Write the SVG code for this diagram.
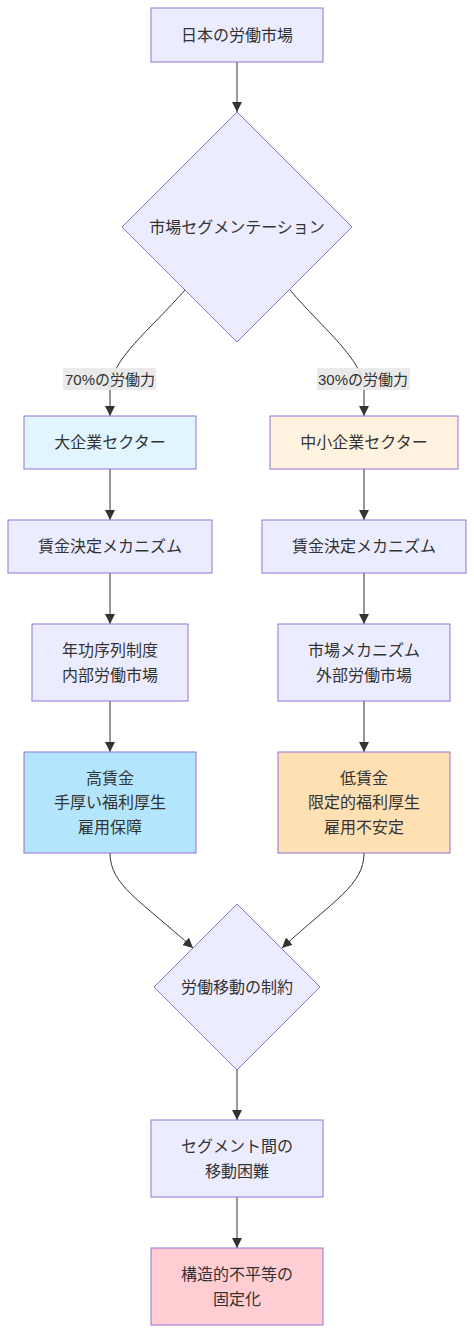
<svg xmlns="http://www.w3.org/2000/svg" width="474" height="1334" viewBox="0 0 474 1334">
<defs>
<marker id="arr" viewBox="0 0 10 10" refX="10" refY="5" markerWidth="10" markerHeight="10" markerUnits="userSpaceOnUse" orient="auto">
<path d="M0,0 L10,5 L0,10 z" fill="#333"/>
</marker>
<style>
.n{fill:#ECECFF;stroke:#9370DB;stroke-width:1}
.t{font-family:"Liberation Sans","Noto Sans CJK JP",sans-serif;font-size:16px;fill:#333;text-anchor:middle;dominant-baseline:central}
.lt{font-family:"Liberation Sans","Noto Sans CJK JP",sans-serif;font-size:15px;fill:#333;text-anchor:middle;dominant-baseline:central}
.e{fill:none;stroke:#333;stroke-width:1;marker-end:url(#arr)}
.lb{fill:#e8e8e8;opacity:0.9}
</style>
</defs>
<rect width="474" height="1334" fill="#fff"/>
<g id="edges">
<path class="e" d="M237,62 L237,112"/>
<path class="e" d="M185,290 C150,330 110,360 110,390 L110,416"/>
<path class="e" d="M290,290 C324,330 364,360 364,390 L364,416"/>
<path class="e" d="M110,469 L110,520"/>
<path class="e" d="M110,573 L110,624"/>
<path class="e" d="M110,701 L110,752"/>
<path class="e" d="M364,469 L364,520"/>
<path class="e" d="M364,573 L364,624"/>
<path class="e" d="M364,701 L364,752"/>
<path class="e" d="M110,853 C110,885 140,900 193,948"/>
<path class="e" d="M364,853 C364,885 334,900 282,948"/>
<path class="e" d="M237,1070 L237,1120"/>
<path class="e" d="M237,1197 L237,1248"/>
<g id="label1"><rect class="lb" x="63" y="368" width="93" height="22"/><text class="lt" x="110" y="379">70%の労働力</text></g>
<g id="label2"><rect class="lb" x="317" y="368" width="93" height="22"/><text class="lt" x="363" y="379">30%の労働力</text></g>
</g>
<g id="A"><rect class="n" x="151" y="8" width="172" height="54"/><text class="t" x="237" y="35">日本の労働市場</text></g>
<g id="B"><polygon class="n" points="237,112 352,227 237,342 122,227"/><text class="t" x="237" y="227">市場セグメンテーション</text></g>
<g id="C"><rect class="n" style="fill:#e1f5fe" x="24" y="416" width="172" height="53"/><text class="t" x="110" y="442">大企業セクター</text></g>
<g id="D"><rect class="n" style="fill:#fff3e0" x="270" y="416" width="188" height="53"/><text class="t" x="364" y="442">中小企業セクター</text></g>
<g id="E"><rect class="n" x="8" y="520" width="204" height="53"/><text class="t" x="110" y="546">賃金決定メカニズム</text></g>
<g id="F"><rect class="n" x="262" y="520" width="204" height="53"/><text class="t" x="364" y="546">賃金決定メカニズム</text></g>
<g id="G"><rect class="n" x="32" y="624" width="156" height="77"/><text class="t" x="110" y="650">年功序列制度</text><text class="t" x="110" y="675">内部労働市場</text></g>
<g id="H"><rect class="n" x="278" y="624" width="172" height="77"/><text class="t" x="364" y="650">市場メカニズム</text><text class="t" x="364" y="675">外部労働市場</text></g>
<g id="I"><rect class="n" style="fill:#b3e5fc" x="24" y="752" width="172" height="101"/><text class="t" x="110" y="778">高賃金</text><text class="t" x="110" y="802">手厚い福利厚生</text><text class="t" x="110" y="827">雇用保障</text></g>
<g id="J"><rect class="n" style="fill:#ffe0b2" x="278" y="752" width="172" height="101"/><text class="t" x="364" y="778">低賃金</text><text class="t" x="364" y="802">限定的福利厚生</text><text class="t" x="364" y="827">雇用不安定</text></g>
<g id="K"><polygon class="n" points="237,904 320,987 237,1070 154,987"/><text class="t" x="237" y="987">労働移動の制約</text></g>
<g id="L"><rect class="n" x="151" y="1120" width="172" height="77"/><text class="t" x="237" y="1146">セグメント間の</text><text class="t" x="237" y="1171">移動困難</text></g>
<g id="M"><rect class="n" style="fill:#ffcdd2" x="151" y="1248" width="172" height="77"/><text class="t" x="237" y="1274">構造的不平等の</text><text class="t" x="237" y="1299">固定化</text></g>
</svg>
